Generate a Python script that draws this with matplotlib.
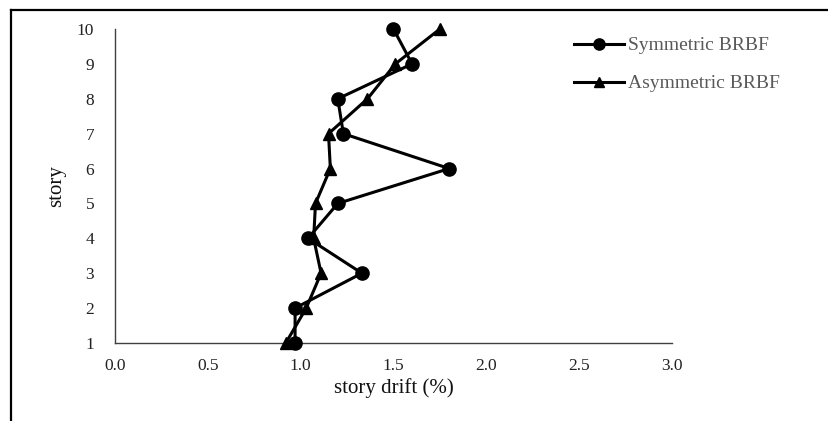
import matplotlib.pyplot as plt
from matplotlib.lines import Line2D

stories = [1, 2, 3, 4, 5, 6, 7, 8, 9, 10]
sym_drift = [0.97, 0.97, 1.33, 1.04, 1.20, 1.80, 1.23, 1.20, 1.60, 1.50]
asym_drift = [0.92, 1.03, 1.11, 1.07, 1.08, 1.16, 1.15, 1.36, 1.51, 1.75]
xticks = [0.0, 0.5, 1.0, 1.5, 2.0, 2.5, 3.0]

plt.rcParams['font.family'] = ['Liberation Serif', 'DejaVu Serif']

fig = plt.figure(figsize=(8.29, 4.21), dpi=100)
ax = fig.add_axes([0.1387, 0.1853, 0.6719, 0.7458])

ax.plot(sym_drift, stories, color='black', lw=2.2, marker='o', ms=9.5,
        label='Symmetric BRBF', clip_on=False, zorder=3)
ax.plot(asym_drift, stories, color='black', lw=2.2, marker='^', ms=9,
        label='Asymmetric BRBF', clip_on=False, zorder=3)

ax.set_xlim(0, 3)
ax.set_ylim(1, 10)
ax.set_xticks(xticks)
ax.set_xticklabels([f'{t:.1f}' for t in xticks])
ax.set_yticks(stories)
ax.tick_params(length=0, labelsize=12.5, colors='#222222')
ax.tick_params(axis='x', pad=11)
ax.tick_params(axis='y', pad=15)
for s in ['top', 'right']:
    ax.spines[s].set_visible(False)
for s in ['left', 'bottom']:
    ax.spines[s].set_color('#404040')
    ax.spines[s].set_linewidth(1)

ax.set_xlabel('story drift (%)', fontsize=15, labelpad=3, color='#111111')
ax.set_ylabel('story', fontsize=15, labelpad=8, color='#111111')

leg = ax.legend(loc='upper left', bbox_to_anchor=(0.81, 1.0), frameon=False,
                fontsize=14, labelspacing=1.05, handlelength=2.6,
                handletextpad=0.2, borderaxespad=0, markerscale=0.85)
for t in leg.get_texts():
    t.set_color('#595959')

# outer border (left and top)
fig.add_artist(Line2D([11.5 / 829, 11.5 / 829], [0, 1 - 10 / 421],
                      transform=fig.transFigure, color='black', lw=1.6))
fig.add_artist(Line2D([11.5 / 829, 1], [1 - 10 / 421, 1 - 10 / 421],
                      transform=fig.transFigure, color='black', lw=1.6))

fig.savefig('out.png', dpi=100)
